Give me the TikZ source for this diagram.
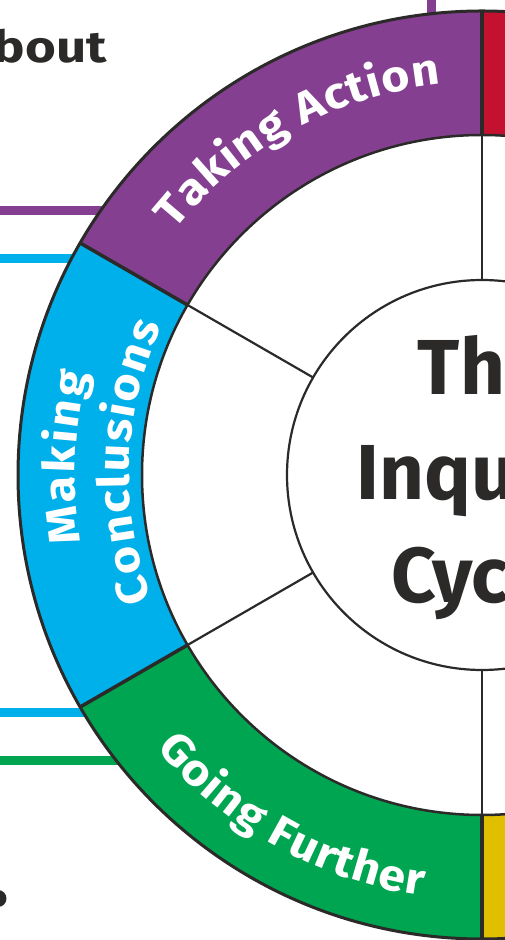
\documentclass[tikz,border=0pt]{standalone}
\usepackage{fontspec}
\setmainfont{Fira Sans}
\newfontfamily\widefont{Fira Sans}[FakeStretch=1.2]
\newfontfamily\ringfam{Fira Sans}[FakeStretch=1.1]
\usetikzlibrary{decorations.text}
\definecolor{ink}{HTML}{2B2A29}
\definecolor{tpurple}{HTML}{843F91}
\definecolor{tblue}{HTML}{00B0EA}
\definecolor{tgreen}{HTML}{00A551}
\definecolor{tred}{HTML}{C4112F}
\definecolor{tyellow}{HTML}{E0BF00}
\newcommand\ringfont{\ringfam\fontsize{44}{44}\selectfont\bfseries}
\begin{document}
\begin{tikzpicture}[x=1pt,y=1pt,
  leader/.style={line width=9pt},
  bigrim/.style={draw=ink, line width=3pt},
  midrim/.style={draw=ink, line width=2.5pt},
  segsep/.style={draw=ink, line width=3.5pt},
  spoke/.style={draw=ink, line width=2.2pt},
  title/.style={anchor=base, inner sep=0pt, text=ink, font=\fontsize{78}{78}\selectfont\bfseries},
  ringtext/.style={decorate, decoration={text effects along path, text={#1},
     text effects/.cd, fit text to path,
     characters={text=white, font=\ringfont, anchor=base, inner sep=0pt, transform shape}}}
]
\useasboundingbox (0,0) rectangle (505,940);
\clip (0,0) rectangle (505,940);
% leader lines (beneath the ring)
\draw[leader, tpurple] (0,729.5) -- (200,729.5);
\draw[leader, tblue] (0,681.5) -- (150,681.5);
\draw[leader, tblue] (0,227) -- (150,227);
\draw[leader, tgreen] (0,179.5) -- (200,179.5);
\draw[leader, tpurple] (431.5,940) -- (431.5,880);
% text at left
\node[anchor=base east, inner sep=0pt, text=ink, font=\widefont\fontsize{44}{44}\selectfont\bfseries] (about) at (107,877) {about};
\fill[ink] (-2,41.5) circle[radius=8.5];
\begin{scope}[shift={(482,465)}]
  \foreach \a/\b/\c in {30/90/tred, 90/150/tpurple, 150/210/tblue, 210/270/tgreen, 270/330/tyellow}
    \fill[\c] (\a:464) arc[start angle=\a, end angle=\b, radius=464] -- (\b:340) arc[start angle=\b, end angle=\a, radius=340] -- cycle;
  \fill[white] (0,0) circle[radius=340];
  \draw[bigrim] (0,0) circle[radius=464];
  \draw[midrim] (0,0) circle[radius=340];
  \draw[spoke] (0,0) circle[radius=195];
  \foreach \a in {90,150,210,270} \draw[segsep] (\a:340) -- (\a:464);
  \foreach \a in {90,150,210,270} \draw[spoke] (\a:195) -- (\a:340);
  % ring labels
  {\ringfont
  \path[ringtext={Taking Action}] (141.5:393) arc[start angle=141.5, end angle=96, radius=393];
  \path[ringtext={Making}] (189.6:407) arc[start angle=189.6, end angle=165.5, radius=407];
  \path[ringtext={Conclusions}] (200.6:353) arc[start angle=200.6, end angle=155, radius=353];
  \path[ringtext={Going Further}] (220:425) arc[start angle=220, end angle=262, radius=425];
  }
  % centre title
  \node[title] (t1) at (1,80) {The};
  \node[title] (t2) at (1,-25) {Inquiry};
  \node[title] (t3) at (1,-128) {Cycle};
\end{scope}
\end{tikzpicture}
\end{document}
